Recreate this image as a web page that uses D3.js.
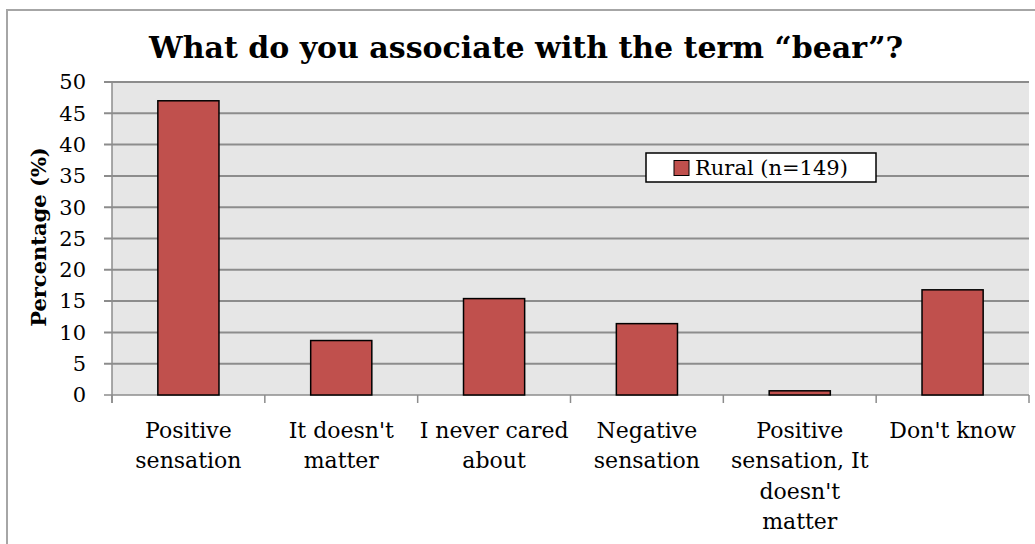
<!DOCTYPE html>
<html>
<head>
<meta charset="utf-8">
<script src="https://cdn.jsdelivr.net/npm/d3@7"></script>
<style>
  body { margin: 0; background: #fff; }
  text { font-family: "DejaVu Serif", "Liberation Serif", serif; }
</style>
</head>
<body>
<div id="chart"></div>
<script>
// Data
const categories = [
  ["Positive", "sensation"],
  ["It doesn't", "matter"],
  ["I never cared", "about"],
  ["Negative", "sensation"],
  ["Positive", "sensation, It", "doesn't", "matter"],
  ["Don't know"]
];
const rural = [47.0, 8.7, 15.4, 11.4, 0.67, 16.8];
const yTicks = [0, 5, 10, 15, 20, 25, 30, 35, 40, 45, 50];
const seriesName = "Rural (n=149)";

const W = 1035, H = 544;
const margin = {top: 82, right: 6, bottom: 149, left: 112};
const width = W - margin.left - margin.right,
    height = H - margin.top - margin.bottom;

const svg = d3.select("#chart")
  .append("svg")
    .attr("width", W)
    .attr("height", H);

// outer frame
svg.append("path")
  .attr("d", `M7,${H} L7,10 L${W},10`)
  .attr("fill", "none")
  .attr("stroke", "#a6a6a6")
  .attr("stroke-width", 2);

const g = svg.append("g")
  .attr("transform", `translate(${margin.left},${margin.top})`);

const x = d3.scaleBand()
  .domain(d3.range(categories.length))
  .range([0, width])
  .paddingInner(0.6)
  .paddingOuter(0.3);

const y = d3.scaleLinear()
  .domain([0, 50])
  .range([height, 0]);

// plot background
g.append("rect")
  .attr("width", width)
  .attr("height", height)
  .attr("fill", "#e6e6e6");

// gridlines + y ticks
g.selectAll(".grid")
  .data(yTicks.filter(d => d > 0))
  .join("line")
    .attr("x1", -8)
    .attr("x2", width)
    .attr("y1", d => y(d))
    .attr("y2", d => y(d))
    .attr("stroke", "#8c8c8c")
    .attr("stroke-width", 2);

g.append("line")
  .attr("x1", -8).attr("x2", width)
  .attr("y1", y(0)).attr("y2", y(0))
  .attr("stroke", "#8c8c8c")
  .attr("stroke-width", 1.5);

g.append("line")
  .attr("x1", 0).attr("x2", 0)
  .attr("y1", 0).attr("y2", height + 8)
  .attr("stroke", "#8c8c8c")
  .attr("stroke-width", 1.5);

g.selectAll(".ylab")
  .data(yTicks)
  .join("text")
    .attr("x", -26)
    .attr("y", d => y(d))
    .attr("dy", "0.35em")
    .attr("text-anchor", "end")
    .style("font-size", "21px")
    .text(d => d);

// x ticks (category boundaries)
g.selectAll(".xtick")
  .data(d3.range(categories.length + 1))
  .join("line")
    .attr("x1", i => i * width / categories.length)
    .attr("x2", i => i * width / categories.length)
    .attr("y1", height)
    .attr("y2", height + 8)
    .attr("stroke", "#8c8c8c")
    .attr("stroke-width", 1.5);

// bars
g.selectAll(".bar")
  .data(rural)
  .join("rect")
    .attr("x", (d, i) => x(i))
    .attr("y", d => y(d))
    .attr("width", x.bandwidth())
    .attr("height", d => height - y(d))
    .attr("fill", "#c0504d")
    .attr("stroke", "#000")
    .attr("stroke-width", 1.5);

// x labels
const xl = g.selectAll(".xlab")
  .data(categories)
  .join("text")
    .attr("text-anchor", "middle")
    .style("font-size", "22px")
    .attr("transform", (d, i) => `translate(${x(i) + x.bandwidth() / 2},${height + 43})`);
xl.selectAll("tspan")
  .data(d => d)
  .join("tspan")
    .attr("x", 0)
    .attr("y", (d, i) => i * 30.3)
    .text(d => d);

// title
svg.append("text")
  .attr("x", 526)
  .attr("y", 58)
  .attr("text-anchor", "middle")
  .style("font-size", "30px")
  .style("font-weight", "bold")
  .text("What do you associate with the term \u201cbear\u201d?");

// y axis title
svg.append("text")
  .attr("transform", "translate(46,237) rotate(-90)")
  .attr("text-anchor", "middle")
  .style("font-size", "21px")
  .style("font-weight", "bold")
  .text("Percentage (%)");

// legend
const lg = svg.append("g").attr("transform", "translate(646,153)");
lg.append("rect")
  .attr("width", 230)
  .attr("height", 29)
  .attr("fill", "#fff")
  .attr("stroke", "#000")
  .attr("stroke-width", 1.5);
lg.append("rect")
  .attr("x", 28).attr("y", 7.5)
  .attr("width", 15).attr("height", 15)
  .attr("fill", "#c0504d")
  .attr("stroke", "#000")
  .attr("stroke-width", 1);
lg.append("text")
  .attr("x", 49)
  .attr("y", 15)
  .attr("dy", "0.35em")
  .style("font-size", "21px")
  .text(seriesName);
</script>
</body>
</html>
